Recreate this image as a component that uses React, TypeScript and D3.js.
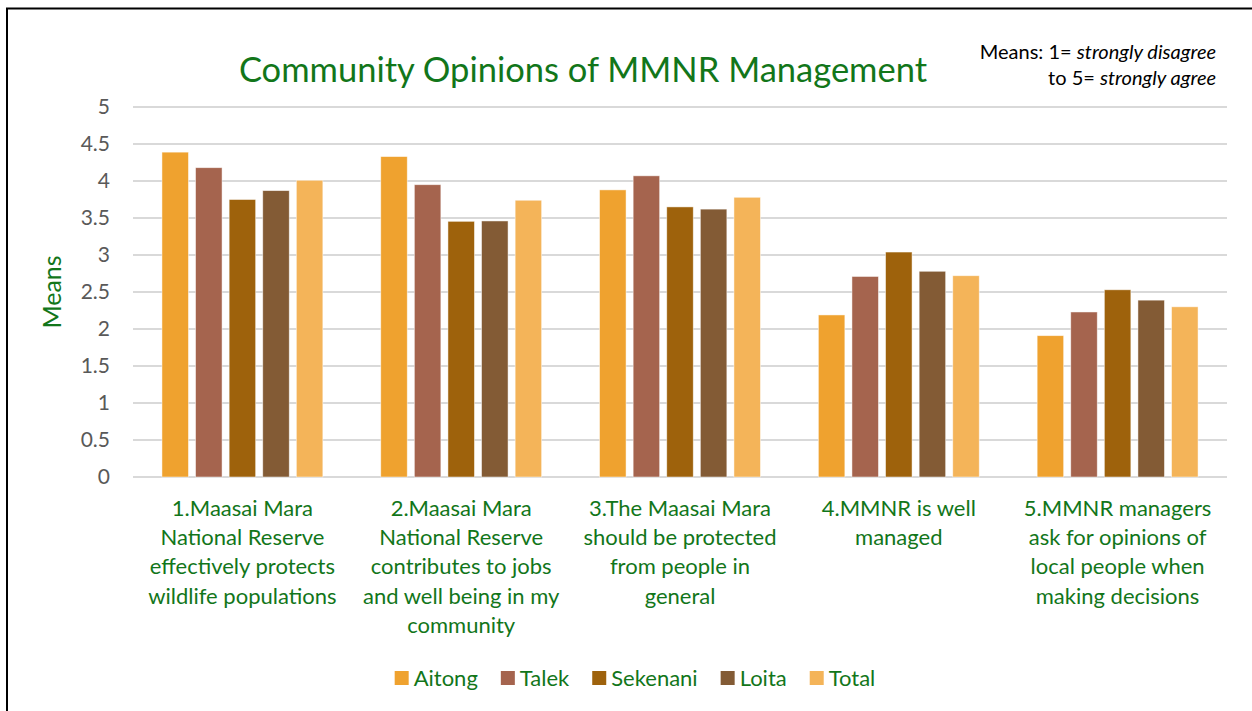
import React, { useEffect } from "react";
import * as d3 from "d3";

const categoryLines: string[][] = [
  ["1.Maasai Mara", "National Reserve", "effectively protects", "wildlife populations"],
  ["2.Maasai Mara", "National Reserve", "contributes to jobs", "and well being in my", "community"],
  ["3.The Maasai Mara", "should be protected", "from people in", "general"],
  ["4.MMNR is well", "managed"],
  ["5.MMNR managers", "ask for opinions of", "local people when", "making decisions"],
];
const categories = categoryLines.map((l) => l.join(" "));
const seriesNames = ["Aitong", "Talek", "Sekenani", "Loita", "Total"];
const aitong = [4.39, 4.33, 3.88, 2.19, 1.91];
const talek = [4.18, 3.95, 4.07, 2.71, 2.23];
const sekenani = [3.75, 3.455, 3.65, 3.04, 2.53];
const loita = [3.87, 3.46, 3.62, 2.78, 2.39];
const total = [4.01, 3.74, 3.78, 2.72, 2.3];
const seriesValues = [aitong, talek, sekenani, loita, total];
const seriesColors = ["#EFA22F", "#A5644E", "#9E620C", "#835B35", "#F4B459"];
const yTicks = [0, 0.5, 1, 1.5, 2, 2.5, 3, 3.5, 4, 4.5, 5];

const FONT = "Lato, 'Open Sans', sans-serif";
const GREEN = "#12761A";

const W = 1252;
const H = 711;
const plotLeft = 133;
const plotRight = 1227;
const plotTop = 107;
const plotBottom = 477;

function measure(text: string, size: number): number {
  const c = document.createElement("canvas").getContext("2d");
  if (!c) return text.length * size * 0.5;
  c.font = `${size}px Lato`;
  return c.measureText(text).width;
}

export default function App() {
  useEffect(() => {
    document.body.style.margin = "0";
    document.body.style.overflow = "hidden";
  }, []);

  const x0 = d3.scaleBand<string>().domain(categories).range([plotLeft, plotRight]).padding(0);
  const groupW = 160.9;
  const off = (x0.bandwidth() - groupW) / 2;
  const x1 = d3.scaleBand<string>().domain(seriesNames).range([off, off + groupW]).paddingInner(0.211).paddingOuter(0);
  const y = d3.scaleLinear().domain([0, 5]).range([plotBottom, plotTop]);

  const legendSize = 22;
  const sq = 14;
  const gapText = 5;
  const gapItem = 23;
  const widths = seriesNames.map((s) => sq + gapText + measure(s, legendSize));
  const totalLegend = d3.sum(widths) + gapItem * (seriesNames.length - 1);
  const legendCenter = 635;
  let lx = legendCenter - totalLegend / 2;
  const legendX = widths.map((w) => {
    const v = lx;
    lx += w + gapItem;
    return v;
  });
  const legendY = 678;

  return (
    <svg width={W} height={H} style={{ position: "absolute", left: 0, top: 0, background: "#fff" }} fontFamily={FONT}>
      <rect x={0} y={0} width={W} height={H} fill="#fff" />
      <rect x={7} y={8.5} width={W + 50} height={H + 50} fill="none" stroke="#000" strokeWidth={2} />

      <text x={583} y={82} textAnchor="middle" fontSize={34.5} fill={GREEN}>
        Community Opinions of MMNR Management
      </text>

      <text x={1216} y={59} textAnchor="end" fontSize={20} fill="#000">
        Means: 1= <tspan fontStyle="italic">strongly disagree</tspan>
      </text>
      <text x={1216} y={85} textAnchor="end" fontSize={20} fill="#000">
        to 5= <tspan fontStyle="italic">strongly agree</tspan>
      </text>

      {yTicks.map((t) => (
        <g key={t}>
          <line x1={plotLeft} x2={plotRight} y1={y(t)} y2={y(t)} stroke="#D9D9D9" strokeWidth={2} />
          <text x={110} y={y(t)} dy="0.35em" textAnchor="end" fontSize={21} fill="#595959">
            {t}
          </text>
        </g>
      ))}

      <text transform={`translate(61,292) rotate(-90)`} textAnchor="middle" fontSize={25} fill={GREEN}>
        Means
      </text>

      {categories.map((c, ci) => (
        <g key={c} transform={`translate(${x0(c)},0)`}>
          {seriesNames.map((s, si) => {
            const v = seriesValues[si][ci];
            return (
              <rect
                key={s}
                x={x1(s)}
                y={y(v)}
                width={x1.bandwidth()}
                height={y(0) - y(v)}
                fill={seriesColors[si]}
                stroke="#ffffff"
                strokeOpacity={0.6}
                strokeWidth={0.8}
              />
            );
          })}
        </g>
      ))}

      {categoryLines.map((lines, ci) => (
        <text key={ci} textAnchor="middle" fontSize={22} fill={GREEN}>
          {lines.map((ln, li) => (
            <tspan key={li} x={(x0(categories[ci]) as number) + x0.bandwidth() / 2} y={516 + li * 29.2}>
              {ln}
            </tspan>
          ))}
        </text>
      ))}

      {seriesNames.map((s, i) => (
        <g key={s} transform={`translate(${legendX[i]},${legendY})`}>
          <rect x={0} y={-sq / 2} width={sq} height={sq} fill={seriesColors[i]} />
          <text x={sq + gapText} y={0} dy="0.35em" fontSize={legendSize} fill={GREEN}>
            {s}
          </text>
        </g>
      ))}
    </svg>
  );
}
